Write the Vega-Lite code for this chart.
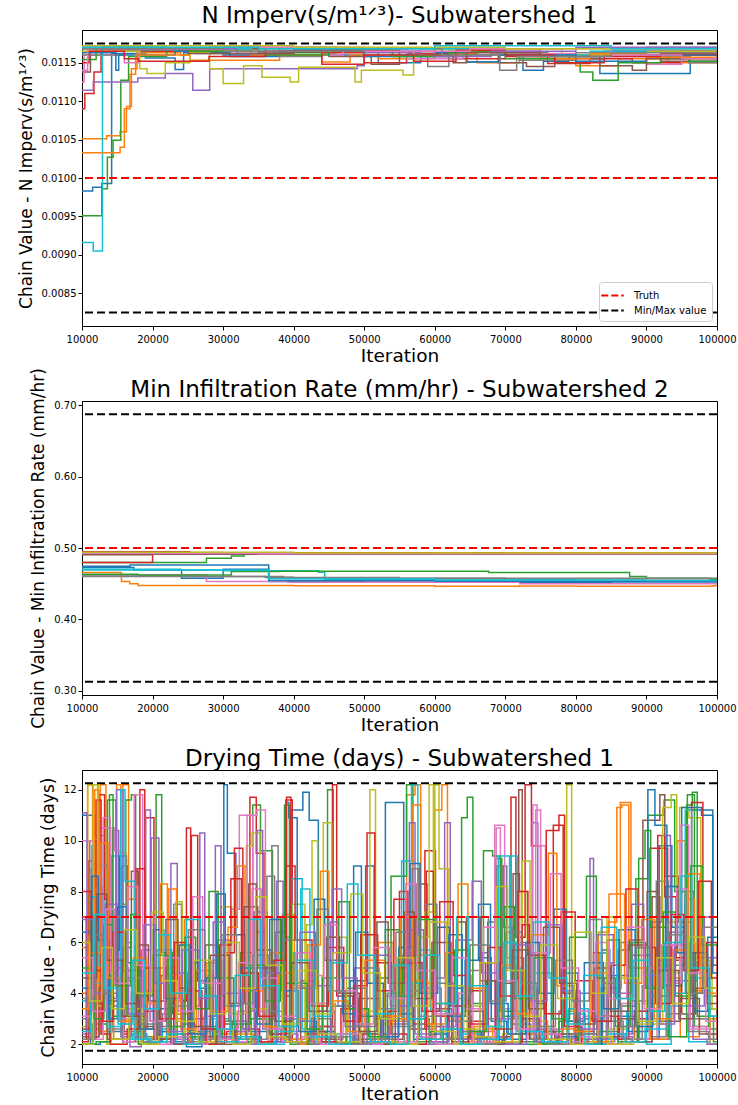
{
  "$schema": "https://vega.github.io/schema/vega-lite/v6.json",
  "background": "white",
  "padding": {"left": 16, "top": 4, "right": 1, "bottom": 0},
  "bounds": "flush",
  "spacing": 75,
  "config": {
    "font": "DejaVu Sans",
    "view": {"stroke": "black", "strokeWidth": 1},
    "axis": {"grid": false, "domainColor": "black", "tickColor": "black", "labelColor": "black", "titleColor": "black", "labelFont": "DejaVu Sans", "titleFont": "DejaVu Sans", "labelFontSize": 10, "titleFontSize": 17, "titleFontWeight": "normal", "tickSize": 4, "labelPadding": 2},
    "axisX": {"titlePadding": 2, "labelPadding": 4, "labelFlush": false, "titleFontSize": 18.5},
    "axisY": {"titlePadding": 6},
    "title": {"font": "DejaVu Sans", "fontSize": 23, "fontWeight": "normal", "color": "black", "offset": 2}
  },
  "resolve": {"scale": {"stroke": "independent", "color": "independent"}, "legend": {"stroke": "independent"}},
  "datasets": {
    "r1": [{"k": "Truth", "v": 0.01}, {"k": "Min/Max value", "v": 0.00825}, {"k": "Min/Max value", "v": 0.01175}],
    "r2": [{"k": "Truth", "v": 0.5}, {"k": "Min/Max value", "v": 0.3125}, {"k": "Min/Max value", "v": 0.6875}],
    "r3": [{"k": "Truth", "v": 7}, {"k": "Min/Max value", "v": 1.75}, {"k": "Min/Max value", "v": 12.25}],
    "p1": [
      {"c":0,"i":10000,"v":0.00983},{"c":0,"i":11500,"v":0.00988},{"c":0,"i":12800,"v":0.00993},{"c":0,"i":14200,"v":0.01162},{"c":0,"i":19000,"v":0.01156},{"c":0,"i":23200,"v":0.01141},{"c":0,"i":24400,"v":0.01163},{"c":0,"i":31000,"v":0.01158},{"c":0,"i":38000,"v":0.01166},{"c":0,"i":45000,"v":0.0116},{"c":0,"i":52000,"v":0.0115},{"c":0,"i":58000,"v":0.01162},{"c":0,"i":64500,"v":0.01151},{"c":0,"i":69200,"v":0.0116},{"c":0,"i":72500,"v":0.0114},{"c":0,"i":75400,"v":0.01152},{"c":0,"i":79000,"v":0.01158},{"c":0,"i":83400,"v":0.01136},{"c":0,"i":96200,"v":0.0116},{"c":0,"i":100000,"v":0.0116},
      {"c":1,"i":10000,"v":0.01051},{"c":1,"i":13500,"v":0.01055},{"c":1,"i":15400,"v":0.0106},{"c":1,"i":16300,"v":0.01093},{"c":1,"i":17000,"v":0.01142},{"c":1,"i":17800,"v":0.01163},{"c":1,"i":24000,"v":0.0116},{"c":1,"i":25300,"v":0.01153},{"c":1,"i":38000,"v":0.0116},{"c":1,"i":44000,"v":0.01151},{"c":1,"i":48000,"v":0.0116},{"c":1,"i":52000,"v":0.01155},{"c":1,"i":60000,"v":0.01162},{"c":1,"i":66000,"v":0.0115},{"c":1,"i":72000,"v":0.01158},{"c":1,"i":80000,"v":0.01146},{"c":1,"i":86000,"v":0.01155},{"c":1,"i":93000,"v":0.0115},{"c":1,"i":100000,"v":0.0115},
      {"c":2,"i":10000,"v":0.00951},{"c":2,"i":12800,"v":0.00986},{"c":2,"i":13600,"v":0.01027},{"c":2,"i":14400,"v":0.01049},{"c":2,"i":15500,"v":0.01127},{"c":2,"i":16600,"v":0.01158},{"c":2,"i":22000,"v":0.01165},{"c":2,"i":30000,"v":0.01168},{"c":2,"i":38000,"v":0.01163},{"c":2,"i":46000,"v":0.01166},{"c":2,"i":54000,"v":0.0116},{"c":2,"i":60000,"v":0.01168},{"c":2,"i":68000,"v":0.01163},{"c":2,"i":76000,"v":0.01158},{"c":2,"i":84000,"v":0.01165},{"c":2,"i":92000,"v":0.0116},{"c":2,"i":100000,"v":0.0116},
      {"c":3,"i":10000,"v":0.0109},{"c":3,"i":10400,"v":0.0111},{"c":3,"i":11700,"v":0.01138},{"c":3,"i":12700,"v":0.01167},{"c":3,"i":20000,"v":0.01165},{"c":3,"i":28000,"v":0.0117},{"c":3,"i":36000,"v":0.0116},{"c":3,"i":44000,"v":0.01163},{"c":3,"i":50000,"v":0.0115},{"c":3,"i":56000,"v":0.01162},{"c":3,"i":62000,"v":0.01155},{"c":3,"i":70000,"v":0.01158},{"c":3,"i":76000,"v":0.01149},{"c":3,"i":82000,"v":0.01155},{"c":3,"i":88000,"v":0.0115},{"c":3,"i":95000,"v":0.0116},{"c":3,"i":100000,"v":0.01162},
      {"c":4,"i":10000,"v":0.01114},{"c":4,"i":11600,"v":0.01125},{"c":4,"i":17900,"v":0.0113},{"c":4,"i":21800,"v":0.01136},{"c":4,"i":25700,"v":0.01114},{"c":4,"i":28100,"v":0.01142},{"c":4,"i":49000,"v":0.01146},{"c":4,"i":50000,"v":0.01163},{"c":4,"i":58000,"v":0.01158},{"c":4,"i":65000,"v":0.01165},{"c":4,"i":75000,"v":0.0116},{"c":4,"i":85000,"v":0.01166},{"c":4,"i":100000,"v":0.01166},
      {"c":5,"i":10000,"v":0.01138},{"c":5,"i":11200,"v":0.01165},{"c":5,"i":20000,"v":0.01168},{"c":5,"i":35000,"v":0.01164},{"c":5,"i":45000,"v":0.01158},{"c":5,"i":51000,"v":0.01148},{"c":5,"i":55000,"v":0.0116},{"c":5,"i":62000,"v":0.01165},{"c":5,"i":69000,"v":0.0115},{"c":5,"i":73000,"v":0.01145},{"c":5,"i":77000,"v":0.01155},{"c":5,"i":84000,"v":0.0116},{"c":5,"i":92000,"v":0.01152},{"c":5,"i":100000,"v":0.01158},
      {"c":6,"i":10000,"v":0.01125},{"c":6,"i":10300,"v":0.0116},{"c":6,"i":16000,"v":0.0115},{"c":6,"i":18000,"v":0.01168},{"c":6,"i":30000,"v":0.01165},{"c":6,"i":40000,"v":0.0116},{"c":6,"i":47000,"v":0.01168},{"c":6,"i":56000,"v":0.01155},{"c":6,"i":64000,"v":0.0116},{"c":6,"i":72000,"v":0.01162},{"c":6,"i":80000,"v":0.01158},{"c":6,"i":90000,"v":0.01148},{"c":6,"i":95000,"v":0.01155},{"c":6,"i":100000,"v":0.0116},
      {"c":7,"i":10000,"v":0.0116},{"c":7,"i":16000,"v":0.01166},{"c":7,"i":26000,"v":0.01162},{"c":7,"i":38000,"v":0.01158},{"c":7,"i":44000,"v":0.01165},{"c":7,"i":52000,"v":0.0116},{"c":7,"i":59000,"v":0.01145},{"c":7,"i":62000,"v":0.0116},{"c":7,"i":72000,"v":0.01153},{"c":7,"i":80000,"v":0.01163},{"c":7,"i":88000,"v":0.01158},{"c":7,"i":96000,"v":0.0115},{"c":7,"i":100000,"v":0.01155},
      {"c":8,"i":10000,"v":0.01165},{"c":8,"i":18200,"v":0.01142},{"c":8,"i":19200,"v":0.01136},{"c":8,"i":21800,"v":0.0115},{"c":8,"i":25300,"v":0.01163},{"c":8,"i":28100,"v":0.01142},{"c":8,"i":30000,"v":0.01123},{"c":8,"i":32900,"v":0.01146},{"c":8,"i":35500,"v":0.01131},{"c":8,"i":39500,"v":0.01125},{"c":8,"i":40700,"v":0.01144},{"c":8,"i":48700,"v":0.01125},{"c":8,"i":49600,"v":0.0114},{"c":8,"i":55500,"v":0.01134},{"c":8,"i":57000,"v":0.01165},{"c":8,"i":66000,"v":0.01168},{"c":8,"i":78000,"v":0.0116},{"c":8,"i":88000,"v":0.01165},{"c":8,"i":100000,"v":0.01162},
      {"c":9,"i":10000,"v":0.00916},{"c":9,"i":11600,"v":0.00905},{"c":9,"i":12900,"v":0.01171},{"c":9,"i":22000,"v":0.01168},{"c":9,"i":34000,"v":0.0117},{"c":9,"i":46000,"v":0.01165},{"c":9,"i":58000,"v":0.01168},{"c":9,"i":70000,"v":0.0116},{"c":9,"i":82000,"v":0.01165},{"c":9,"i":90000,"v":0.0117},{"c":9,"i":100000,"v":0.01168},
      {"c":10,"i":10000,"v":0.01163},{"c":10,"i":14800,"v":0.0114},{"c":10,"i":15200,"v":0.0116},{"c":10,"i":23200,"v":0.01165},{"c":10,"i":30000,"v":0.0116},{"c":10,"i":40000,"v":0.01166},{"c":10,"i":50000,"v":0.01158},{"c":10,"i":60000,"v":0.01163},{"c":10,"i":64500,"v":0.01151},{"c":10,"i":69200,"v":0.0116},{"c":10,"i":80000,"v":0.01152},{"c":10,"i":90000,"v":0.0116},{"c":10,"i":100000,"v":0.01158},
      {"c":11,"i":10000,"v":0.01033},{"c":11,"i":15400,"v":0.0104},{"c":11,"i":16000,"v":0.0109},{"c":11,"i":16800,"v":0.01135},{"c":11,"i":17600,"v":0.0116},{"c":11,"i":25000,"v":0.01165},{"c":11,"i":34000,"v":0.0116},{"c":11,"i":44000,"v":0.01166},{"c":11,"i":55000,"v":0.0116},{"c":11,"i":65000,"v":0.01168},{"c":11,"i":75000,"v":0.01155},{"c":11,"i":82000,"v":0.01162},{"c":11,"i":90000,"v":0.01157},{"c":11,"i":100000,"v":0.01164},
      {"c":12,"i":10000,"v":0.01154},{"c":12,"i":12000,"v":0.01168},{"c":12,"i":25000,"v":0.01165},{"c":12,"i":36000,"v":0.0116},{"c":12,"i":45000,"v":0.01166},{"c":12,"i":54000,"v":0.01158},{"c":12,"i":62000,"v":0.01164},{"c":12,"i":70000,"v":0.01155},{"c":12,"i":77000,"v":0.0115},{"c":12,"i":80600,"v":0.01138},{"c":12,"i":82400,"v":0.01127},{"c":12,"i":86000,"v":0.0115},{"c":12,"i":92000,"v":0.01155},{"c":12,"i":96000,"v":0.01152},{"c":12,"i":100000,"v":0.01152},
      {"c":13,"i":10000,"v":0.0115},{"c":13,"i":11000,"v":0.01165},{"c":13,"i":16000,"v":0.01155},{"c":13,"i":18000,"v":0.01152},{"c":13,"i":28000,"v":0.01158},{"c":13,"i":36000,"v":0.01165},{"c":13,"i":44000,"v":0.01148},{"c":13,"i":50000,"v":0.0116},{"c":13,"i":57000,"v":0.01152},{"c":13,"i":63000,"v":0.01166},{"c":13,"i":70000,"v":0.0116},{"c":13,"i":77000,"v":0.0115},{"c":13,"i":84000,"v":0.01158},{"c":13,"i":92000,"v":0.01162},{"c":13,"i":100000,"v":0.01165},
      {"c":14,"i":10000,"v":0.0117},{"c":14,"i":20000,"v":0.01168},{"c":14,"i":32000,"v":0.01162},{"c":14,"i":40000,"v":0.01168},{"c":14,"i":50000,"v":0.01165},{"c":14,"i":60000,"v":0.01158},{"c":14,"i":68000,"v":0.01165},{"c":14,"i":80000,"v":0.0117},{"c":14,"i":100000,"v":0.01168},
      {"c":15,"i":10000,"v":0.01168},{"c":15,"i":25000,"v":0.01162},{"c":15,"i":40000,"v":0.01166},{"c":15,"i":55000,"v":0.0116},{"c":15,"i":62600,"v":0.0115},{"c":15,"i":64500,"v":0.01163},{"c":15,"i":75000,"v":0.01158},{"c":15,"i":83400,"v":0.01146},{"c":15,"i":88000,"v":0.0114},{"c":15,"i":90000,"v":0.01155},{"c":15,"i":100000,"v":0.0116},
      {"c":16,"i":10000,"v":0.0114},{"c":16,"i":10800,"v":0.01168},{"c":16,"i":30000,"v":0.0117},{"c":16,"i":50000,"v":0.01165},{"c":16,"i":65000,"v":0.01168},{"c":16,"i":85000,"v":0.0116},{"c":16,"i":95000,"v":0.01155},{"c":16,"i":100000,"v":0.01158},
      {"c":17,"i":10000,"v":0.01168},{"c":17,"i":30000,"v":0.01165},{"c":17,"i":50000,"v":0.01168},{"c":17,"i":61000,"v":0.0116},{"c":17,"i":69200,"v":0.0114},{"c":17,"i":71600,"v":0.01158},{"c":17,"i":85000,"v":0.01163},{"c":17,"i":100000,"v":0.01165},
      {"c":18,"i":10000,"v":0.01172},{"c":18,"i":40000,"v":0.0117},{"c":18,"i":70000,"v":0.01168},{"c":18,"i":100000,"v":0.0117},
      {"c":19,"i":10000,"v":0.0117},{"c":19,"i":35000,"v":0.01168},{"c":19,"i":60000,"v":0.01172},{"c":19,"i":85000,"v":0.01168},{"c":19,"i":100000,"v":0.0117}
    ],
    "p2": [
      {"c":0,"i":10000,"v":0.4725},{"c":0,"i":17350,"v":0.4692},{"c":0,"i":24110,"v":0.4576},{"c":0,"i":30000,"v":0.4702},{"c":0,"i":36460,"v":0.4529},{"c":0,"i":50000,"v":0.4522},{"c":0,"i":70000,"v":0.4518},{"c":0,"i":85000,"v":0.4525},{"c":0,"i":100000,"v":0.452},
      {"c":1,"i":10000,"v":0.4655},{"c":1,"i":15590,"v":0.4529},{"c":1,"i":16760,"v":0.4497},{"c":1,"i":17940,"v":0.4473},{"c":1,"i":40000,"v":0.447},{"c":1,"i":60000,"v":0.4465},{"c":1,"i":72000,"v":0.4468},{"c":1,"i":80000,"v":0.4465},{"c":1,"i":99500,"v":0.447},{"c":1,"i":100000,"v":0.449},
      {"c":2,"i":10000,"v":0.4795},{"c":2,"i":27640,"v":0.4856},{"c":2,"i":31170,"v":0.4888},{"c":2,"i":33000,"v":0.4912},{"c":2,"i":60000,"v":0.4914},{"c":2,"i":100000,"v":0.4912},
      {"c":3,"i":10000,"v":0.4795},{"c":3,"i":20000,"v":0.4926},{"c":3,"i":45000,"v":0.493},{"c":3,"i":70000,"v":0.4925},{"c":3,"i":100000,"v":0.4928},
      {"c":4,"i":10000,"v":0.4915},{"c":4,"i":30000,"v":0.4918},{"c":4,"i":60000,"v":0.492},{"c":4,"i":100000,"v":0.4922},
      {"c":5,"i":10000,"v":0.492},{"c":5,"i":40000,"v":0.4922},{"c":5,"i":100000,"v":0.492},
      {"c":6,"i":10000,"v":0.4625},{"c":6,"i":27640,"v":0.4529},{"c":6,"i":39110,"v":0.452},{"c":6,"i":72040,"v":0.45},{"c":6,"i":100000,"v":0.4495},
      {"c":7,"i":10000,"v":0.4608},{"c":7,"i":25000,"v":0.46},{"c":7,"i":38520,"v":0.459},{"c":7,"i":40000,"v":0.4576},{"c":7,"i":70000,"v":0.457},{"c":7,"i":100000,"v":0.456},
      {"c":8,"i":10000,"v":0.493},{"c":8,"i":25000,"v":0.4925},{"c":8,"i":55000,"v":0.492},{"c":8,"i":100000,"v":0.4918},
      {"c":9,"i":10000,"v":0.4702},{"c":9,"i":24000,"v":0.469},{"c":9,"i":30000,"v":0.468},{"c":9,"i":43520,"v":0.466},{"c":9,"i":44400,"v":0.456},{"c":9,"i":60000,"v":0.4552},{"c":9,"i":80000,"v":0.454},{"c":9,"i":100000,"v":0.453},
      {"c":10,"i":10000,"v":0.4745},{"c":10,"i":16800,"v":0.476},{"c":10,"i":36460,"v":0.4545},{"c":10,"i":60000,"v":0.4535},{"c":10,"i":80000,"v":0.4528},{"c":10,"i":100000,"v":0.4515},
      {"c":11,"i":10000,"v":0.4938},{"c":11,"i":30000,"v":0.4932},{"c":11,"i":65000,"v":0.4925},{"c":11,"i":100000,"v":0.4922},
      {"c":12,"i":10000,"v":0.463},{"c":12,"i":17940,"v":0.462},{"c":12,"i":31170,"v":0.4669},{"c":12,"i":38000,"v":0.4675},{"c":12,"i":67630,"v":0.4655},{"c":12,"i":87620,"v":0.46},{"c":12,"i":90000,"v":0.4576},{"c":12,"i":99000,"v":0.456},{"c":12,"i":100000,"v":0.4555},
      {"c":13,"i":10000,"v":0.4949},{"c":13,"i":25290,"v":0.4926},{"c":13,"i":60000,"v":0.4922},{"c":13,"i":100000,"v":0.4925},
      {"c":14,"i":10000,"v":0.4912},{"c":14,"i":50000,"v":0.4915},{"c":14,"i":100000,"v":0.4918},
      {"c":15,"i":10000,"v":0.4905},{"c":15,"i":20000,"v":0.4915},{"c":15,"i":100000,"v":0.4915},
      {"c":16,"i":10000,"v":0.4925},{"c":16,"i":35000,"v":0.492},{"c":16,"i":100000,"v":0.4918},
      {"c":17,"i":10000,"v":0.46},{"c":17,"i":36000,"v":0.4585},{"c":17,"i":55000,"v":0.4575},{"c":17,"i":100000,"v":0.4565},
      {"c":18,"i":10000,"v":0.4942},{"c":18,"i":40000,"v":0.493},{"c":18,"i":100000,"v":0.4925},
      {"c":19,"i":10000,"v":0.469},{"c":19,"i":36460,"v":0.457},{"c":19,"i":60000,"v":0.4552},{"c":19,"i":90000,"v":0.4545},{"c":19,"i":100000,"v":0.454}
    ],
    "p3": [
      {"c":0,"i":10000,"v":11.0},{"c":0,"i":11800,"v":10.2},{"c":0,"i":13100,"v":3.3},{"c":0,"i":14200,"v":2.5},{"c":0,"i":15600,"v":9.0},{"c":0,"i":16500,"v":5.2},{"c":0,"i":17800,"v":2.2},{"c":0,"i":19500,"v":2.0},{"c":0,"i":21000,"v":3.4},{"c":0,"i":22600,"v":2.1},{"c":0,"i":24800,"v":1.9},{"c":0,"i":27000,"v":2.6},{"c":0,"i":30100,"v":12.2},{"c":0,"i":30600,"v":9.5},{"c":0,"i":31800,"v":6.3},{"c":0,"i":33200,"v":2.3},{"c":0,"i":35400,"v":2.0},{"c":0,"i":37500,"v":3.9},{"c":0,"i":39600,"v":11.2},{"c":0,"i":41300,"v":11.9},{"c":0,"i":42200,"v":10.8},{"c":0,"i":43500,"v":2.7},{"c":0,"i":45800,"v":2.1},{"c":0,"i":48000,"v":4.5},{"c":0,"i":50200,"v":9.0},{"c":0,"i":51400,"v":3.0},{"c":0,"i":53000,"v":11.5},{"c":0,"i":55600,"v":5.1},{"c":0,"i":57800,"v":2.3},{"c":0,"i":59500,"v":2.1},{"c":0,"i":61800,"v":4.2},{"c":0,"i":64000,"v":2.0},{"c":0,"i":66400,"v":5.4},{"c":0,"i":68000,"v":2.9},{"c":0,"i":70200,"v":2.2},{"c":0,"i":73000,"v":3.6},{"c":0,"i":75500,"v":2.0},{"c":0,"i":78000,"v":4.8},{"c":0,"i":80300,"v":2.4},{"c":0,"i":83000,"v":2.0},{"c":0,"i":86000,"v":3.1},{"c":0,"i":89000,"v":2.2},{"c":0,"i":91800,"v":9.8},{"c":0,"i":93600,"v":6.6},{"c":0,"i":95700,"v":11.2},{"c":0,"i":99400,"v":5.1},{"c":0,"i":100000,"v":5.1},
      {"c":1,"i":10000,"v":5.8},{"c":1,"i":10800,"v":12.2},{"c":1,"i":11500,"v":4.0},{"c":1,"i":12600,"v":12.2},{"c":1,"i":13400,"v":3.9},{"c":1,"i":14500,"v":2.2},{"c":1,"i":15800,"v":12.2},{"c":1,"i":16600,"v":7.7},{"c":1,"i":17500,"v":2.6},{"c":1,"i":19200,"v":4.1},{"c":1,"i":20800,"v":2.2},{"c":1,"i":22500,"v":3.0},{"c":1,"i":24500,"v":6.9},{"c":1,"i":25800,"v":2.4},{"c":1,"i":27800,"v":2.0},{"c":1,"i":29800,"v":2.4},{"c":1,"i":32000,"v":3.3},{"c":1,"i":34500,"v":2.0},{"c":1,"i":36800,"v":2.2},{"c":1,"i":38400,"v":7.1},{"c":1,"i":40100,"v":4.3},{"c":1,"i":42600,"v":2.1},{"c":1,"i":45200,"v":2.0},{"c":1,"i":47400,"v":3.5},{"c":1,"i":49500,"v":2.1},{"c":1,"i":52000,"v":6.0},{"c":1,"i":54100,"v":2.9},{"c":1,"i":56000,"v":11.8},{"c":1,"i":57200,"v":12.2},{"c":1,"i":58000,"v":4.4},{"c":1,"i":60000,"v":11.2},{"c":1,"i":61000,"v":12.2},{"c":1,"i":61800,"v":3.2},{"c":1,"i":63600,"v":2.1},{"c":1,"i":66000,"v":2.5},{"c":1,"i":68500,"v":2.0},{"c":1,"i":71000,"v":3.0},{"c":1,"i":74000,"v":2.1},{"c":1,"i":77000,"v":2.4},{"c":1,"i":80000,"v":2.0},{"c":1,"i":83200,"v":6.4},{"c":1,"i":84600,"v":6.8},{"c":1,"i":85800,"v":11.3},{"c":1,"i":86500,"v":11.4},{"c":1,"i":87500,"v":5.0},{"c":1,"i":89600,"v":3.6},{"c":1,"i":92000,"v":4.6},{"c":1,"i":94800,"v":2.3},{"c":1,"i":97500,"v":3.0},{"c":1,"i":100000,"v":3.2},
      {"c":2,"i":10000,"v":2.0},{"c":2,"i":11500,"v":2.8},{"c":2,"i":13600,"v":11.6},{"c":2,"i":14800,"v":7.5},{"c":2,"i":16200,"v":11.6},{"c":2,"i":17000,"v":11.8},{"c":2,"i":17600,"v":4.9},{"c":2,"i":18800,"v":2.3},{"c":2,"i":20500,"v":11.8},{"c":2,"i":21300,"v":5.6},{"c":2,"i":22800,"v":3.2},{"c":2,"i":25000,"v":2.0},{"c":2,"i":27600,"v":2.7},{"c":2,"i":29900,"v":2.2},{"c":2,"i":32500,"v":5.6},{"c":2,"i":34200,"v":11.4},{"c":2,"i":35300,"v":9.6},{"c":2,"i":37000,"v":2.3},{"c":2,"i":39500,"v":2.0},{"c":2,"i":42000,"v":2.2},{"c":2,"i":44800,"v":12.0},{"c":2,"i":45600,"v":3.5},{"c":2,"i":48500,"v":2.0},{"c":2,"i":51500,"v":4.6},{"c":2,"i":53800,"v":8.6},{"c":2,"i":56000,"v":12.2},{"c":2,"i":56900,"v":3.0},{"c":2,"i":59200,"v":2.0},{"c":2,"i":61800,"v":2.6},{"c":2,"i":63800,"v":10.9},{"c":2,"i":64600,"v":11.7},{"c":2,"i":65400,"v":3.6},{"c":2,"i":67500,"v":6.8},{"c":2,"i":68600,"v":9.3},{"c":2,"i":69500,"v":3.1},{"c":2,"i":72000,"v":2.0},{"c":2,"i":75000,"v":2.5},{"c":2,"i":78200,"v":3.8},{"c":2,"i":80600,"v":2.2},{"c":2,"i":84400,"v":6.1},{"c":2,"i":86200,"v":3.5},{"c":2,"i":88500,"v":8.5},{"c":2,"i":90200,"v":11.0},{"c":2,"i":92500,"v":11.6},{"c":2,"i":94000,"v":8.0},{"c":2,"i":95800,"v":11.8},{"c":2,"i":96800,"v":2.7},{"c":2,"i":98800,"v":3.4},{"c":2,"i":100000,"v":3.0},
      {"c":3,"i":10000,"v":2.1},{"c":3,"i":10900,"v":9.2},{"c":3,"i":11700,"v":2.3},{"c":3,"i":12400,"v":11.8},{"c":3,"i":13200,"v":7.7},{"c":3,"i":14100,"v":5.8},{"c":3,"i":15700,"v":2.4},{"c":3,"i":17600,"v":3.1},{"c":3,"i":19000,"v":10.9},{"c":3,"i":20200,"v":2.9},{"c":3,"i":21900,"v":5.0},{"c":3,"i":23500,"v":2.4},{"c":3,"i":25500,"v":10.2},{"c":3,"i":26400,"v":4.5},{"c":3,"i":28200,"v":2.1},{"c":3,"i":30500,"v":2.5},{"c":3,"i":33800,"v":11.7},{"c":3,"i":34700,"v":9.5},{"c":3,"i":35800,"v":3.0},{"c":3,"i":37500,"v":6.4},{"c":3,"i":38900,"v":11.6},{"c":3,"i":39800,"v":2.1},{"c":3,"i":42300,"v":2.7},{"c":3,"i":45500,"v":12.2},{"c":3,"i":46100,"v":3.9},{"c":3,"i":48400,"v":2.2},{"c":3,"i":51000,"v":2.0},{"c":3,"i":53500,"v":3.3},{"c":3,"i":55000,"v":8.0},{"c":3,"i":56200,"v":2.6},{"c":3,"i":58600,"v":9.6},{"c":3,"i":60100,"v":3.1},{"c":3,"i":62400,"v":2.0},{"c":3,"i":64800,"v":4.1},{"c":3,"i":67000,"v":2.3},{"c":3,"i":70800,"v":11.7},{"c":3,"i":71500,"v":6.2},{"c":3,"i":72800,"v":12.2},{"c":3,"i":73700,"v":9.8},{"c":3,"i":75000,"v":2.4},{"c":3,"i":76800,"v":10.6},{"c":3,"i":78200,"v":4.0},{"c":3,"i":80000,"v":2.5},{"c":3,"i":82500,"v":5.6},{"c":3,"i":84600,"v":2.2},{"c":3,"i":87500,"v":3.0},{"c":3,"i":90500,"v":9.7},{"c":3,"i":93000,"v":5.3},{"c":3,"i":95000,"v":3.2},{"c":3,"i":97000,"v":4.2},{"c":3,"i":98500,"v":6.0},{"c":3,"i":100000,"v":2.2},
      {"c":4,"i":10000,"v":2.4},{"c":4,"i":11100,"v":10.0},{"c":4,"i":12000,"v":8.2},{"c":4,"i":12900,"v":2.5},{"c":4,"i":14300,"v":10.4},{"c":4,"i":15200,"v":2.9},{"c":4,"i":16800,"v":1.9},{"c":4,"i":18400,"v":5.7},{"c":4,"i":19800,"v":10.1},{"c":4,"i":20900,"v":2.7},{"c":4,"i":22600,"v":9.1},{"c":4,"i":23500,"v":2.2},{"c":4,"i":25400,"v":3.5},{"c":4,"i":26700,"v":10.3},{"c":4,"i":27400,"v":2.0},{"c":4,"i":29200,"v":6.1},{"c":4,"i":31000,"v":2.5},{"c":4,"i":33600,"v":4.8},{"c":4,"i":35200,"v":2.1},{"c":4,"i":37600,"v":8.4},{"c":4,"i":38500,"v":2.4},{"c":4,"i":40600,"v":2.0},{"c":4,"i":43000,"v":3.3},{"c":4,"i":45800,"v":2.1},{"c":4,"i":48600,"v":5.0},{"c":4,"i":50400,"v":2.2},{"c":4,"i":53500,"v":2.8},{"c":4,"i":56100,"v":6.1},{"c":4,"i":57600,"v":2.0},{"c":4,"i":60200,"v":4.6},{"c":4,"i":61400,"v":10.7},{"c":4,"i":62200,"v":3.5},{"c":4,"i":65000,"v":2.2},{"c":4,"i":67800,"v":2.0},{"c":4,"i":71000,"v":6.0},{"c":4,"i":73800,"v":10.7},{"c":4,"i":74600,"v":2.6},{"c":4,"i":77200,"v":2.0},{"c":4,"i":79800,"v":4.0},{"c":4,"i":82000,"v":9.3},{"c":4,"i":82500,"v":2.1},{"c":4,"i":85500,"v":2.4},{"c":4,"i":88000,"v":5.5},{"c":4,"i":90500,"v":2.2},{"c":4,"i":93300,"v":6.4},{"c":4,"i":95500,"v":4.5},{"c":4,"i":97200,"v":5.4},{"c":4,"i":100000,"v":5.5},
      {"c":5,"i":10000,"v":2.6},{"c":5,"i":12500,"v":6.3},{"c":5,"i":13800,"v":3.7},{"c":5,"i":16000,"v":2.5},{"c":5,"i":18500,"v":2.1},{"c":5,"i":21200,"v":4.7},{"c":5,"i":22600,"v":2.3},{"c":5,"i":25000,"v":3.0},{"c":5,"i":27500,"v":5.9},{"c":5,"i":29300,"v":2.8},{"c":5,"i":31600,"v":2.2},{"c":5,"i":34600,"v":6.4},{"c":5,"i":36000,"v":2.6},{"c":5,"i":38200,"v":2.1},{"c":5,"i":41000,"v":4.5},{"c":5,"i":43500,"v":2.3},{"c":5,"i":46000,"v":2.0},{"c":5,"i":49200,"v":3.8},{"c":5,"i":52300,"v":2.2},{"c":5,"i":55500,"v":5.5},{"c":5,"i":57400,"v":8.3},{"c":5,"i":58900,"v":2.7},{"c":5,"i":61200,"v":2.2},{"c":5,"i":63200,"v":6.8},{"c":5,"i":64400,"v":3.3},{"c":5,"i":67000,"v":2.1},{"c":5,"i":69800,"v":5.0},{"c":5,"i":71900,"v":12.0},{"c":5,"i":72400,"v":4.1},{"c":5,"i":74600,"v":2.5},{"c":5,"i":77000,"v":2.2},{"c":5,"i":80000,"v":3.0},{"c":5,"i":83000,"v":2.3},{"c":5,"i":86000,"v":5.7},{"c":5,"i":87600,"v":6.1},{"c":5,"i":89500,"v":10.8},{"c":5,"i":91900,"v":11.8},{"c":5,"i":92600,"v":8.6},{"c":5,"i":94500,"v":6.8},{"c":5,"i":96300,"v":4.0},{"c":5,"i":98400,"v":3.9},{"c":5,"i":100000,"v":3.9},
      {"c":6,"i":10000,"v":10.0},{"c":6,"i":11600,"v":4.4},{"c":6,"i":12500,"v":10.5},{"c":6,"i":14600,"v":9.6},{"c":6,"i":15400,"v":3.0},{"c":6,"i":16800,"v":2.2},{"c":6,"i":19000,"v":7.0},{"c":6,"i":20400,"v":2.5},{"c":6,"i":22000,"v":2.0},{"c":6,"i":24200,"v":4.1},{"c":6,"i":26500,"v":2.2},{"c":6,"i":29000,"v":2.6},{"c":6,"i":31200,"v":7.3},{"c":6,"i":32300,"v":11.0},{"c":6,"i":34200,"v":3.3},{"c":6,"i":36400,"v":2.1},{"c":6,"i":39000,"v":2.5},{"c":6,"i":41800,"v":4.7},{"c":6,"i":44000,"v":2.2},{"c":6,"i":47000,"v":3.2},{"c":6,"i":50000,"v":2.1},{"c":6,"i":53000,"v":3.9},{"c":6,"i":56400,"v":5.6},{"c":6,"i":57800,"v":4.1},{"c":6,"i":60100,"v":2.5},{"c":6,"i":62600,"v":3.1},{"c":6,"i":65200,"v":2.1},{"c":6,"i":68700,"v":10.5},{"c":6,"i":69300,"v":3.4},{"c":6,"i":71500,"v":2.4},{"c":6,"i":73900,"v":11.4},{"c":6,"i":74500,"v":9.8},{"c":6,"i":75700,"v":2.6},{"c":6,"i":78200,"v":2.2},{"c":6,"i":81000,"v":3.1},{"c":6,"i":83800,"v":2.0},{"c":6,"i":86500,"v":3.6},{"c":6,"i":89000,"v":2.2},{"c":6,"i":91500,"v":5.3},{"c":6,"i":93700,"v":5.9},{"c":6,"i":96200,"v":2.7},{"c":6,"i":98500,"v":2.4},{"c":6,"i":100000,"v":2.4},
      {"c":7,"i":10000,"v":3.0},{"c":7,"i":11300,"v":8.9},{"c":7,"i":12200,"v":9.0},{"c":7,"i":13700,"v":3.5},{"c":7,"i":15500,"v":2.3},{"c":7,"i":17000,"v":4.0},{"c":7,"i":19300,"v":2.6},{"c":7,"i":21400,"v":3.2},{"c":7,"i":23000,"v":7.5},{"c":7,"i":24100,"v":2.8},{"c":7,"i":26000,"v":2.2},{"c":7,"i":28600,"v":5.3},{"c":7,"i":29800,"v":2.6},{"c":7,"i":32000,"v":2.0},{"c":7,"i":34500,"v":3.0},{"c":7,"i":36900,"v":9.8},{"c":7,"i":37800,"v":4.4},{"c":7,"i":39600,"v":2.2},{"c":7,"i":42000,"v":2.5},{"c":7,"i":44600,"v":2.1},{"c":7,"i":47500,"v":4.2},{"c":7,"i":50300,"v":2.4},{"c":7,"i":53000,"v":2.0},{"c":7,"i":55700,"v":4.4},{"c":7,"i":57600,"v":2.6},{"c":7,"i":60000,"v":2.2},{"c":7,"i":62600,"v":3.8},{"c":7,"i":64800,"v":4.9},{"c":7,"i":66500,"v":7.0},{"c":7,"i":67600,"v":3.0},{"c":7,"i":69600,"v":9.0},{"c":7,"i":70200,"v":5.4},{"c":7,"i":72600,"v":2.6},{"c":7,"i":75000,"v":2.1},{"c":7,"i":77600,"v":3.3},{"c":7,"i":80300,"v":2.0},{"c":7,"i":83600,"v":4.2},{"c":7,"i":86400,"v":6.0},{"c":7,"i":88000,"v":3.7},{"c":7,"i":90500,"v":2.3},{"c":7,"i":92800,"v":5.1},{"c":7,"i":95400,"v":8.0},{"c":7,"i":96700,"v":3.0},{"c":7,"i":99000,"v":2.6},{"c":7,"i":100000,"v":2.6},
      {"c":8,"i":10000,"v":2.7},{"c":8,"i":10800,"v":12.2},{"c":8,"i":12300,"v":2.4},{"c":8,"i":13500,"v":2.0},{"c":8,"i":15800,"v":4.6},{"c":8,"i":17600,"v":2.1},{"c":8,"i":20000,"v":2.2},{"c":8,"i":22400,"v":3.9},{"c":8,"i":24600,"v":2.0},{"c":8,"i":27200,"v":2.4},{"c":8,"i":29700,"v":7.4},{"c":8,"i":31200,"v":3.2},{"c":8,"i":33300,"v":9.8},{"c":8,"i":34100,"v":10.3},{"c":8,"i":35200,"v":4.2},{"c":8,"i":37300,"v":2.4},{"c":8,"i":39800,"v":7.5},{"c":8,"i":41600,"v":2.2},{"c":8,"i":44200,"v":10.7},{"c":8,"i":45400,"v":6.2},{"c":8,"i":47500,"v":2.1},{"c":8,"i":50800,"v":12.0},{"c":8,"i":51600,"v":2.8},{"c":8,"i":54000,"v":2.1},{"c":8,"i":56500,"v":4.1},{"c":8,"i":58600,"v":7.2},{"c":8,"i":59800,"v":12.2},{"c":8,"i":60600,"v":8.9},{"c":8,"i":62000,"v":2.3},{"c":8,"i":64600,"v":3.5},{"c":8,"i":66900,"v":2.0},{"c":8,"i":69600,"v":2.4},{"c":8,"i":72400,"v":9.2},{"c":8,"i":73500,"v":2.9},{"c":8,"i":76000,"v":2.1},{"c":8,"i":78700,"v":12.2},{"c":8,"i":79400,"v":3.3},{"c":8,"i":81800,"v":2.0},{"c":8,"i":84600,"v":2.6},{"c":8,"i":87200,"v":2.1},{"c":8,"i":90000,"v":5.0},{"c":8,"i":92000,"v":4.8},{"c":8,"i":94700,"v":11.3},{"c":8,"i":96000,"v":10.9},{"c":8,"i":97700,"v":5.1},{"c":8,"i":99300,"v":3.4},{"c":8,"i":100000,"v":3.4},
      {"c":9,"i":10000,"v":3.7},{"c":9,"i":11400,"v":9.8},{"c":9,"i":12800,"v":5.1},{"c":9,"i":14200,"v":9.4},{"c":9,"i":15700,"v":2.2},{"c":9,"i":17200,"v":2.4},{"c":9,"i":19200,"v":2.1},{"c":9,"i":21400,"v":2.6},{"c":9,"i":23300,"v":2.0},{"c":9,"i":25800,"v":2.3},{"c":9,"i":28100,"v":3.0},{"c":9,"i":31000,"v":2.2},{"c":9,"i":33500,"v":2.1},{"c":9,"i":36400,"v":2.0},{"c":9,"i":38700,"v":6.2},{"c":9,"i":39700,"v":8.5},{"c":9,"i":41200,"v":2.6},{"c":9,"i":43300,"v":2.1},{"c":9,"i":46000,"v":2.4},{"c":9,"i":49000,"v":2.0},{"c":9,"i":52500,"v":3.0},{"c":9,"i":55300,"v":9.2},{"c":9,"i":56700,"v":12.2},{"c":9,"i":57600,"v":5.7},{"c":9,"i":59400,"v":3.3},{"c":9,"i":61600,"v":2.2},{"c":9,"i":64000,"v":2.4},{"c":9,"i":66300,"v":2.0},{"c":9,"i":69600,"v":2.2},{"c":9,"i":70800,"v":9.4},{"c":9,"i":71700,"v":2.5},{"c":9,"i":74200,"v":4.8},{"c":9,"i":76500,"v":2.1},{"c":9,"i":79000,"v":3.4},{"c":9,"i":81800,"v":2.0},{"c":9,"i":84200,"v":2.2},{"c":9,"i":87200,"v":3.3},{"c":9,"i":90000,"v":2.0},{"c":9,"i":93500,"v":3.5},{"c":9,"i":96000,"v":2.1},{"c":9,"i":99000,"v":2.0},{"c":9,"i":100000,"v":2.0},
      {"c":10,"i":10000,"v":6.4},{"c":10,"i":11200,"v":2.0},{"c":10,"i":12600,"v":2.1},{"c":10,"i":14100,"v":5.7},{"c":10,"i":15300,"v":9.4},{"c":10,"i":16300,"v":3.2},{"c":10,"i":18400,"v":2.2},{"c":10,"i":20700,"v":2.5},{"c":10,"i":23000,"v":2.0},{"c":10,"i":25600,"v":5.2},{"c":10,"i":26600,"v":4.2},{"c":10,"i":28500,"v":2.3},{"c":10,"i":31500,"v":2.1},{"c":10,"i":34000,"v":2.5},{"c":10,"i":36700,"v":2.1},{"c":10,"i":38900,"v":11.5},{"c":10,"i":39300,"v":10.9},{"c":10,"i":40500,"v":2.9},{"c":10,"i":43200,"v":2.5},{"c":10,"i":45800,"v":2.0},{"c":10,"i":48500,"v":9.0},{"c":10,"i":49600,"v":3.1},{"c":10,"i":52400,"v":2.1},{"c":10,"i":54800,"v":3.2},{"c":10,"i":57000,"v":2.2},{"c":10,"i":59700,"v":2.4},{"c":10,"i":62000,"v":6.3},{"c":10,"i":63900,"v":2.5},{"c":10,"i":66600,"v":2.2},{"c":10,"i":69500,"v":2.0},{"c":10,"i":72200,"v":4.2},{"c":10,"i":74400,"v":2.1},{"c":10,"i":77400,"v":2.3},{"c":10,"i":80200,"v":2.0},{"c":10,"i":83700,"v":5.7},{"c":10,"i":84800,"v":4.7},{"c":10,"i":87400,"v":2.5},{"c":10,"i":90200,"v":12.0},{"c":10,"i":91200,"v":10.6},{"c":10,"i":92900,"v":4.3},{"c":10,"i":95000,"v":11.3},{"c":10,"i":97800,"v":11.0},{"c":10,"i":99400,"v":4.8},{"c":10,"i":100000,"v":4.8},
      {"c":11,"i":10000,"v":4.0},{"c":11,"i":11000,"v":6.2},{"c":11,"i":11800,"v":12.0},{"c":11,"i":12400,"v":2.5},{"c":11,"i":13500,"v":5.4},{"c":11,"i":14900,"v":12.2},{"c":11,"i":15500,"v":9.5},{"c":11,"i":16200,"v":2.8},{"c":11,"i":18000,"v":2.0},{"c":11,"i":19900,"v":2.3},{"c":11,"i":22300,"v":8.1},{"c":11,"i":23400,"v":3.2},{"c":11,"i":25400,"v":2.0},{"c":11,"i":27700,"v":5.2},{"c":11,"i":29500,"v":2.1},{"c":11,"i":31800,"v":2.4},{"c":11,"i":34300,"v":2.1},{"c":11,"i":36800,"v":5.6},{"c":11,"i":38400,"v":2.2},{"c":11,"i":41000,"v":2.0},{"c":11,"i":43600,"v":3.6},{"c":11,"i":45900,"v":2.0},{"c":11,"i":48400,"v":2.4},{"c":11,"i":51200,"v":2.1},{"c":11,"i":54000,"v":3.0},{"c":11,"i":56800,"v":11.4},{"c":11,"i":58000,"v":5.5},{"c":11,"i":59600,"v":2.2},{"c":11,"i":62500,"v":2.0},{"c":11,"i":65600,"v":2.7},{"c":11,"i":68200,"v":2.1},{"c":11,"i":71000,"v":2.4},{"c":11,"i":74600,"v":2.0},{"c":11,"i":78000,"v":2.6},{"c":11,"i":81000,"v":2.1},{"c":11,"i":84300,"v":5.2},{"c":11,"i":85500,"v":7.0},{"c":11,"i":86300,"v":11.5},{"c":11,"i":87800,"v":2.7},{"c":11,"i":90600,"v":2.2},{"c":11,"i":93000,"v":6.8},{"c":11,"i":94400,"v":10.0},{"c":11,"i":95500,"v":7.7},{"c":11,"i":96800,"v":4.1},{"c":11,"i":99000,"v":2.0},{"c":11,"i":100000,"v":2.0},
      {"c":12,"i":10000,"v":2.0},{"c":12,"i":12000,"v":2.1},{"c":12,"i":13900,"v":11.8},{"c":12,"i":14400,"v":3.1},{"c":12,"i":16400,"v":4.5},{"c":12,"i":18000,"v":2.0},{"c":12,"i":20400,"v":2.2},{"c":12,"i":22600,"v":3.8},{"c":12,"i":24300,"v":2.3},{"c":12,"i":26700,"v":2.0},{"c":12,"i":29000,"v":2.9},{"c":12,"i":31300,"v":2.1},{"c":12,"i":34000,"v":3.0},{"c":12,"i":36600,"v":2.4},{"c":12,"i":38700,"v":11.4},{"c":12,"i":39400,"v":2.1},{"c":12,"i":42000,"v":2.0},{"c":12,"i":44600,"v":2.3},{"c":12,"i":47500,"v":2.0},{"c":12,"i":50400,"v":2.2},{"c":12,"i":53300,"v":4.0},{"c":12,"i":55400,"v":5.2},{"c":12,"i":57000,"v":2.1},{"c":12,"i":59400,"v":2.5},{"c":12,"i":61200,"v":2.0},{"c":12,"i":64000,"v":2.2},{"c":12,"i":66900,"v":9.6},{"c":12,"i":68200,"v":9.4},{"c":12,"i":69300,"v":3.3},{"c":12,"i":72000,"v":2.1},{"c":12,"i":75300,"v":2.0},{"c":12,"i":77600,"v":2.9},{"c":12,"i":80400,"v":2.0},{"c":12,"i":83300,"v":2.5},{"c":12,"i":86000,"v":2.1},{"c":12,"i":88900,"v":9.3},{"c":12,"i":89800,"v":10.4},{"c":12,"i":90600,"v":6.6},{"c":12,"i":93100,"v":2.3},{"c":12,"i":95700,"v":11.4},{"c":12,"i":96500,"v":11.9},{"c":12,"i":97200,"v":3.1},{"c":12,"i":99500,"v":2.1},{"c":12,"i":100000,"v":2.1},
      {"c":13,"i":10000,"v":7.0},{"c":13,"i":10600,"v":2.2},{"c":13,"i":12000,"v":11.6},{"c":13,"i":12700,"v":2.4},{"c":13,"i":14000,"v":2.0},{"c":13,"i":16400,"v":2.6},{"c":13,"i":18200,"v":12.0},{"c":13,"i":18900,"v":3.3},{"c":13,"i":20700,"v":2.2},{"c":13,"i":23000,"v":3.7},{"c":13,"i":24800,"v":10.5},{"c":13,"i":25400,"v":2.5},{"c":13,"i":27600,"v":2.0},{"c":13,"i":30200,"v":5.6},{"c":13,"i":31600,"v":9.7},{"c":13,"i":32800,"v":2.6},{"c":13,"i":35100,"v":2.1},{"c":13,"i":37000,"v":2.4},{"c":13,"i":39000,"v":11.7},{"c":13,"i":39600,"v":4.2},{"c":13,"i":41800,"v":2.4},{"c":13,"i":44000,"v":2.1},{"c":13,"i":46700,"v":3.4},{"c":13,"i":48500,"v":4.3},{"c":13,"i":50400,"v":10.3},{"c":13,"i":51500,"v":5.2},{"c":13,"i":53800,"v":2.4},{"c":13,"i":56100,"v":2.0},{"c":13,"i":58800,"v":8.8},{"c":13,"i":59800,"v":3.1},{"c":13,"i":62000,"v":2.2},{"c":13,"i":65000,"v":2.9},{"c":13,"i":67200,"v":5.2},{"c":13,"i":69100,"v":2.1},{"c":13,"i":72400,"v":6.7},{"c":13,"i":73400,"v":2.2},{"c":13,"i":75800,"v":10.4},{"c":13,"i":77600,"v":11.0},{"c":13,"i":78400,"v":2.7},{"c":13,"i":80800,"v":2.0},{"c":13,"i":83600,"v":3.1},{"c":13,"i":86000,"v":2.2},{"c":13,"i":88300,"v":3.3},{"c":13,"i":91600,"v":10.2},{"c":13,"i":92600,"v":7.8},{"c":13,"i":94200,"v":5.4},{"c":13,"i":96400,"v":11.5},{"c":13,"i":98000,"v":4.2},{"c":13,"i":100000,"v":4.2},
      {"c":14,"i":10000,"v":11.1},{"c":14,"i":10700,"v":2.5},{"c":14,"i":11900,"v":6.0},{"c":14,"i":13200,"v":3.8},{"c":14,"i":14900,"v":12.0},{"c":14,"i":15800,"v":2.1},{"c":14,"i":17600,"v":2.3},{"c":14,"i":19000,"v":11.2},{"c":14,"i":19700,"v":2.9},{"c":14,"i":21200,"v":2.1},{"c":14,"i":23200,"v":4.8},{"c":14,"i":25000,"v":2.0},{"c":14,"i":27300,"v":3.1},{"c":14,"i":28900,"v":9.8},{"c":14,"i":29700,"v":2.3},{"c":14,"i":32200,"v":2.0},{"c":14,"i":34800,"v":10.4},{"c":14,"i":35600,"v":2.6},{"c":14,"i":37800,"v":2.1},{"c":14,"i":40400,"v":2.9},{"c":14,"i":42800,"v":2.0},{"c":14,"i":45200,"v":6.8},{"c":14,"i":46300,"v":3.5},{"c":14,"i":48800,"v":2.1},{"c":14,"i":51500,"v":2.4},{"c":14,"i":54400,"v":2.0},{"c":14,"i":56400,"v":10.7},{"c":14,"i":57200,"v":2.4},{"c":14,"i":59500,"v":2.1},{"c":14,"i":62000,"v":2.9},{"c":14,"i":63800,"v":2.2},{"c":14,"i":66800,"v":5.6},{"c":14,"i":67600,"v":2.3},{"c":14,"i":70000,"v":2.0},{"c":14,"i":73000,"v":5.6},{"c":14,"i":74200,"v":2.1},{"c":14,"i":76600,"v":2.4},{"c":14,"i":79000,"v":2.0},{"c":14,"i":81600,"v":2.2},{"c":14,"i":84400,"v":5.2},{"c":14,"i":85400,"v":2.3},{"c":14,"i":88000,"v":2.1},{"c":14,"i":90800,"v":6.8},{"c":14,"i":92200,"v":10.2},{"c":14,"i":93400,"v":4.5},{"c":14,"i":96600,"v":2.2},{"c":14,"i":98600,"v":2.0},{"c":14,"i":100000,"v":2.0},
      {"c":15,"i":10000,"v":2.3},{"c":15,"i":12400,"v":4.2},{"c":15,"i":13600,"v":2.2},{"c":15,"i":15900,"v":5.8},{"c":15,"i":17000,"v":8.8},{"c":15,"i":18000,"v":2.7},{"c":15,"i":20200,"v":2.2},{"c":15,"i":22600,"v":2.0},{"c":15,"i":25000,"v":4.5},{"c":15,"i":26800,"v":2.3},{"c":15,"i":29000,"v":2.0},{"c":15,"i":31800,"v":2.9},{"c":15,"i":33600,"v":8.3},{"c":15,"i":34700,"v":5.7},{"c":15,"i":36900,"v":2.3},{"c":15,"i":39400,"v":2.1},{"c":15,"i":42200,"v":2.5},{"c":15,"i":44500,"v":2.2},{"c":15,"i":46800,"v":2.0},{"c":15,"i":49800,"v":2.4},{"c":15,"i":52000,"v":2.0},{"c":15,"i":54400,"v":5.0},{"c":15,"i":55800,"v":5.8},{"c":15,"i":57000,"v":2.8},{"c":15,"i":59800,"v":3.4},{"c":15,"i":62400,"v":2.1},{"c":15,"i":64700,"v":2.3},{"c":15,"i":67400,"v":2.0},{"c":15,"i":69800,"v":4.4},{"c":15,"i":71100,"v":8.7},{"c":15,"i":72000,"v":3.0},{"c":15,"i":74800,"v":2.2},{"c":15,"i":77500,"v":2.4},{"c":15,"i":80000,"v":2.0},{"c":15,"i":83500,"v":2.3},{"c":15,"i":86200,"v":3.0},{"c":15,"i":88700,"v":2.1},{"c":15,"i":90800,"v":7.8},{"c":15,"i":91900,"v":2.9},{"c":15,"i":94800,"v":3.8},{"c":15,"i":97500,"v":2.4},{"c":15,"i":100000,"v":2.4},
      {"c":16,"i":10000,"v":3.1},{"c":16,"i":11300,"v":2.2},{"c":16,"i":13000,"v":10.9},{"c":16,"i":14000,"v":4.8},{"c":16,"i":15900,"v":2.1},{"c":16,"i":17400,"v":11.8},{"c":16,"i":18600,"v":3.4},{"c":16,"i":20400,"v":2.0},{"c":16,"i":22800,"v":2.3},{"c":16,"i":25200,"v":2.0},{"c":16,"i":27800,"v":4.7},{"c":16,"i":29400,"v":2.2},{"c":16,"i":31600,"v":2.1},{"c":16,"i":33400,"v":11.0},{"c":16,"i":34800,"v":11.2},{"c":16,"i":36000,"v":2.6},{"c":16,"i":38500,"v":2.1},{"c":16,"i":41200,"v":2.3},{"c":16,"i":43800,"v":2.0},{"c":16,"i":46600,"v":2.4},{"c":16,"i":49500,"v":2.0},{"c":16,"i":52600,"v":3.0},{"c":16,"i":54800,"v":2.1},{"c":16,"i":57400,"v":2.3},{"c":16,"i":60200,"v":2.0},{"c":16,"i":63400,"v":4.0},{"c":16,"i":65400,"v":2.1},{"c":16,"i":68500,"v":10.6},{"c":16,"i":69900,"v":5.0},{"c":16,"i":71400,"v":2.6},{"c":16,"i":74300,"v":11.2},{"c":16,"i":75000,"v":2.4},{"c":16,"i":77800,"v":2.1},{"c":16,"i":80600,"v":2.3},{"c":16,"i":83100,"v":3.1},{"c":16,"i":85000,"v":2.0},{"c":16,"i":87800,"v":2.2},{"c":16,"i":90400,"v":5.0},{"c":16,"i":92800,"v":4.4},{"c":16,"i":94900,"v":10.6},{"c":16,"i":96000,"v":2.6},{"c":16,"i":99000,"v":2.2},{"c":16,"i":100000,"v":2.2},
      {"c":17,"i":10000,"v":2.2},{"c":17,"i":11800,"v":4.4},{"c":17,"i":13500,"v":2.6},{"c":17,"i":15600,"v":6.0},{"c":17,"i":17000,"v":3.0},{"c":17,"i":18700,"v":2.1},{"c":17,"i":20800,"v":5.0},{"c":17,"i":22000,"v":2.4},{"c":17,"i":24600,"v":2.1},{"c":17,"i":27000,"v":2.5},{"c":17,"i":29700,"v":6.0},{"c":17,"i":30800,"v":2.9},{"c":17,"i":33300,"v":2.2},{"c":17,"i":36200,"v":8.6},{"c":17,"i":37300,"v":2.7},{"c":17,"i":39400,"v":2.1},{"c":17,"i":42500,"v":3.0},{"c":17,"i":45400,"v":2.3},{"c":17,"i":48300,"v":2.0},{"c":17,"i":51000,"v":2.2},{"c":17,"i":54000,"v":2.7},{"c":17,"i":56800,"v":8.9},{"c":17,"i":57700,"v":3.1},{"c":17,"i":60800,"v":2.2},{"c":17,"i":63500,"v":2.5},{"c":17,"i":66100,"v":2.0},{"c":17,"i":68800,"v":9.0},{"c":17,"i":69700,"v":6.6},{"c":17,"i":71000,"v":2.8},{"c":17,"i":73600,"v":2.2},{"c":17,"i":76300,"v":2.0},{"c":17,"i":79400,"v":2.4},{"c":17,"i":82600,"v":4.6},{"c":17,"i":84000,"v":2.9},{"c":17,"i":86700,"v":2.2},{"c":17,"i":89400,"v":4.3},{"c":17,"i":91400,"v":8.4},{"c":17,"i":93100,"v":3.2},{"c":17,"i":95900,"v":2.5},{"c":17,"i":98800,"v":2.2},{"c":17,"i":100000,"v":2.2},
      {"c":18,"i":10000,"v":2.0},{"c":18,"i":11600,"v":12.2},{"c":18,"i":12200,"v":3.5},{"c":18,"i":14200,"v":2.2},{"c":18,"i":16600,"v":3.4},{"c":18,"i":18500,"v":2.0},{"c":18,"i":20900,"v":2.3},{"c":18,"i":23300,"v":7.6},{"c":18,"i":24200,"v":2.5},{"c":18,"i":26400,"v":2.1},{"c":18,"i":28800,"v":2.6},{"c":18,"i":31400,"v":2.0},{"c":18,"i":33900,"v":3.4},{"c":18,"i":36300,"v":2.3},{"c":18,"i":38900,"v":2.1},{"c":18,"i":41800,"v":6.7},{"c":18,"i":42600,"v":10.0},{"c":18,"i":43400,"v":2.4},{"c":18,"i":46200,"v":2.1},{"c":18,"i":49400,"v":3.3},{"c":18,"i":52000,"v":2.1},{"c":18,"i":54600,"v":2.0},{"c":18,"i":57600,"v":6.2},{"c":18,"i":59200,"v":12.2},{"c":18,"i":60000,"v":2.5},{"c":18,"i":62900,"v":2.0},{"c":18,"i":65500,"v":2.3},{"c":18,"i":68300,"v":2.1},{"c":18,"i":72000,"v":8.0},{"c":18,"i":73100,"v":2.7},{"c":18,"i":76000,"v":2.2},{"c":18,"i":79200,"v":2.0},{"c":18,"i":82400,"v":2.3},{"c":18,"i":85200,"v":2.0},{"c":18,"i":88200,"v":2.8},{"c":18,"i":92300,"v":11.3},{"c":18,"i":93500,"v":11.8},{"c":18,"i":94300,"v":6.0},{"c":18,"i":97000,"v":5.3},{"c":18,"i":99000,"v":2.9},{"c":18,"i":100000,"v":2.9},
      {"c":19,"i":10000,"v":2.5},{"c":19,"i":11200,"v":7.8},{"c":19,"i":12400,"v":5.1},{"c":19,"i":13600,"v":2.7},{"c":19,"i":15500,"v":12.0},{"c":19,"i":16100,"v":8.4},{"c":19,"i":17500,"v":2.2},{"c":19,"i":19700,"v":2.1},{"c":19,"i":22000,"v":2.4},{"c":19,"i":24400,"v":2.0},{"c":19,"i":26900,"v":2.6},{"c":19,"i":29500,"v":2.1},{"c":19,"i":32100,"v":2.3},{"c":19,"i":35000,"v":2.0},{"c":19,"i":37400,"v":2.5},{"c":19,"i":40000,"v":5.6},{"c":19,"i":41000,"v":8.1},{"c":19,"i":42300,"v":2.3},{"c":19,"i":45000,"v":2.0},{"c":19,"i":48000,"v":2.5},{"c":19,"i":50900,"v":2.1},{"c":19,"i":53700,"v":2.0},{"c":19,"i":56200,"v":4.4},{"c":19,"i":58100,"v":2.2},{"c":19,"i":61000,"v":2.6},{"c":19,"i":63600,"v":2.0},{"c":19,"i":66600,"v":2.2},{"c":19,"i":69000,"v":9.4},{"c":19,"i":70600,"v":5.0},{"c":19,"i":72200,"v":2.5},{"c":19,"i":75300,"v":2.1},{"c":19,"i":78800,"v":3.2},{"c":19,"i":81300,"v":2.0},{"c":19,"i":83400,"v":5.6},{"c":19,"i":84500,"v":2.4},{"c":19,"i":87000,"v":2.1},{"c":19,"i":89800,"v":2.6},{"c":19,"i":93000,"v":4.0},{"c":19,"i":95500,"v":11.2},{"c":19,"i":96400,"v":4.6},{"c":19,"i":99000,"v":3.1},{"c":19,"i":100000,"v":3.1},
      {"c":20,"i":10000,"v":4.2},{"c":20,"i":11400,"v":8.6},{"c":20,"i":12300,"v":6.1},{"c":20,"i":13800,"v":3.0},{"c":20,"i":15000,"v":7.4},{"c":20,"i":16400,"v":4.9},{"c":20,"i":18200,"v":2.6},{"c":20,"i":20100,"v":6.5},{"c":20,"i":21600,"v":3.8},{"c":20,"i":23800,"v":5.9},{"c":20,"i":25300,"v":2.4},{"c":20,"i":27600,"v":4.6},{"c":20,"i":29100,"v":7.9},{"c":20,"i":30300,"v":3.5},{"c":20,"i":32400,"v":5.0},{"c":20,"i":34800,"v":2.8},{"c":20,"i":36600,"v":6.9},{"c":20,"i":38300,"v":4.1},{"c":20,"i":40700,"v":2.5},{"c":20,"i":42900,"v":7.7},{"c":20,"i":44400,"v":5.3},{"c":20,"i":46900,"v":3.2},{"c":20,"i":48800,"v":6.4},{"c":20,"i":50500,"v":4.4},{"c":20,"i":52700,"v":2.3},{"c":20,"i":54900,"v":5.8},{"c":20,"i":56500,"v":9.1},{"c":20,"i":57900,"v":4.0},{"c":20,"i":60400,"v":6.6},{"c":20,"i":62100,"v":3.1},{"c":20,"i":64300,"v":5.3},{"c":20,"i":66200,"v":7.5},{"c":20,"i":67900,"v":3.6},{"c":20,"i":70400,"v":2.4},{"c":20,"i":72900,"v":6.0},{"c":20,"i":74800,"v":4.0},{"c":20,"i":76900,"v":7.3},{"c":20,"i":78600,"v":2.9},{"c":20,"i":81200,"v":5.2},{"c":20,"i":83900,"v":3.4},{"c":20,"i":86100,"v":6.5},{"c":20,"i":88400,"v":2.7},{"c":20,"i":90900,"v":4.9},{"c":20,"i":92700,"v":8.2},{"c":20,"i":94400,"v":5.6},{"c":20,"i":96900,"v":3.3},{"c":20,"i":98700,"v":6.2},{"c":20,"i":100000,"v":6.2},
      {"c":21,"i":10000,"v":3.4},{"c":21,"i":11000,"v":5.6},{"c":21,"i":12700,"v":9.9},{"c":21,"i":13700,"v":4.6},{"c":21,"i":15300,"v":2.9},{"c":21,"i":17300,"v":5.4},{"c":21,"i":19100,"v":3.6},{"c":21,"i":21100,"v":8.3},{"c":21,"i":22100,"v":4.7},{"c":21,"i":24000,"v":2.6},{"c":21,"i":26200,"v":4.9},{"c":21,"i":28400,"v":3.3},{"c":21,"i":30700,"v":6.6},{"c":21,"i":32000,"v":9.0},{"c":21,"i":33100,"v":4.1},{"c":21,"i":35700,"v":2.7},{"c":21,"i":37900,"v":4.8},{"c":21,"i":39900,"v":3.0},{"c":21,"i":42000,"v":5.9},{"c":21,"i":43800,"v":8.8},{"c":21,"i":45000,"v":3.7},{"c":21,"i":47700,"v":2.5},{"c":21,"i":50100,"v":5.3},{"c":21,"i":52900,"v":3.1},{"c":21,"i":55100,"v":7.0},{"c":21,"i":56900,"v":4.5},{"c":21,"i":59000,"v":2.8},{"c":21,"i":61500,"v":5.6},{"c":21,"i":63300,"v":8.3},{"c":21,"i":64700,"v":4.2},{"c":21,"i":67100,"v":2.6},{"c":21,"i":69400,"v":5.1},{"c":21,"i":71600,"v":3.2},{"c":21,"i":73700,"v":6.3},{"c":21,"i":76100,"v":9.5},{"c":21,"i":77300,"v":4.3},{"c":21,"i":79700,"v":2.5},{"c":21,"i":82000,"v":4.8},{"c":21,"i":84700,"v":7.9},{"c":21,"i":86900,"v":4.4},{"c":21,"i":89300,"v":6.9},{"c":21,"i":91100,"v":3.0},{"c":21,"i":93800,"v":5.7},{"c":21,"i":95900,"v":8.7},{"c":21,"i":97600,"v":4.0},{"c":21,"i":100000,"v":4.0},
      {"c":22,"i":10000,"v":5.0},{"c":22,"i":11700,"v":3.0},{"c":22,"i":13100,"v":6.7},{"c":22,"i":14700,"v":4.3},{"c":22,"i":16900,"v":7.1},{"c":22,"i":18100,"v":3.9},{"c":22,"i":20000,"v":5.5},{"c":22,"i":22200,"v":2.7},{"c":22,"i":24600,"v":6.2},{"c":22,"i":26100,"v":3.4},{"c":22,"i":28000,"v":8.0},{"c":22,"i":29300,"v":4.6},{"c":22,"i":31500,"v":2.8},{"c":22,"i":33900,"v":5.1},{"c":22,"i":36000,"v":3.7},{"c":22,"i":38100,"v":7.0},{"c":22,"i":39500,"v":4.4},{"c":22,"i":41900,"v":2.6},{"c":22,"i":44100,"v":4.6},{"c":22,"i":46400,"v":7.6},{"c":22,"i":47900,"v":3.4},{"c":22,"i":50600,"v":2.3},{"c":22,"i":53000,"v":6.5},{"c":22,"i":55000,"v":3.9},{"c":22,"i":57300,"v":6.9},{"c":22,"i":59900,"v":3.6},{"c":22,"i":62800,"v":5.7},{"c":22,"i":64900,"v":2.5},{"c":22,"i":67300,"v":4.5},{"c":22,"i":69900,"v":7.4},{"c":22,"i":71300,"v":3.8},{"c":22,"i":74100,"v":5.4},{"c":22,"i":76600,"v":3.0},{"c":22,"i":79100,"v":6.2},{"c":22,"i":81500,"v":8.6},{"c":22,"i":82900,"v":4.6},{"c":22,"i":85600,"v":2.7},{"c":22,"i":87700,"v":6.0},{"c":22,"i":89900,"v":4.2},{"c":22,"i":92400,"v":7.2},{"c":22,"i":94100,"v":3.9},{"c":22,"i":96300,"v":9.0},{"c":22,"i":97900,"v":5.9},{"c":22,"i":100000,"v":5.9},
      {"c":23,"i":10000,"v":8.0},{"c":23,"i":11300,"v":4.9},{"c":23,"i":12900,"v":2.9},{"c":23,"i":14400,"v":6.4},{"c":23,"i":16100,"v":3.6},{"c":23,"i":17800,"v":8.9},{"c":23,"i":18900,"v":5.0},{"c":23,"i":21000,"v":3.0},{"c":23,"i":23100,"v":6.0},{"c":23,"i":24700,"v":4.1},{"c":23,"i":27000,"v":2.6},{"c":23,"i":29500,"v":5.9},{"c":23,"i":31100,"v":8.5},{"c":23,"i":32600,"v":4.8},{"c":23,"i":35000,"v":3.1},{"c":23,"i":37200,"v":5.3},{"c":23,"i":38900,"v":9.0},{"c":23,"i":40200,"v":6.1},{"c":23,"i":42600,"v":3.5},{"c":23,"i":44900,"v":5.8},{"c":23,"i":47100,"v":2.9},{"c":23,"i":49500,"v":6.3},{"c":23,"i":51900,"v":4.1},{"c":23,"i":54200,"v":7.7},{"c":23,"i":55900,"v":5.2},{"c":23,"i":58200,"v":3.3},{"c":23,"i":60700,"v":7.6},{"c":23,"i":62600,"v":4.7},{"c":23,"i":65100,"v":2.8},{"c":23,"i":67500,"v":5.8},{"c":23,"i":69300,"v":3.9},{"c":23,"i":71800,"v":8.0},{"c":23,"i":73200,"v":5.5},{"c":23,"i":75600,"v":3.2},{"c":23,"i":77900,"v":7.2},{"c":23,"i":79900,"v":4.5},{"c":23,"i":82300,"v":2.9},{"c":23,"i":85000,"v":5.1},{"c":23,"i":87100,"v":8.1},{"c":23,"i":88800,"v":5.8},{"c":23,"i":91300,"v":3.6},{"c":23,"i":93500,"v":7.1},{"c":23,"i":95300,"v":4.9},{"c":23,"i":97400,"v":8.4},{"c":23,"i":99200,"v":4.6},{"c":23,"i":100000,"v":4.6},
      {"c":24,"i":10000,"v":6.9},{"c":24,"i":11900,"v":4.0},{"c":24,"i":13300,"v":7.5},{"c":24,"i":14800,"v":5.0},{"c":24,"i":16600,"v":3.2},{"c":24,"i":18800,"v":6.7},{"c":24,"i":20300,"v":4.4},{"c":24,"i":22400,"v":2.5},{"c":24,"i":24200,"v":5.7},{"c":24,"i":26600,"v":3.8},{"c":24,"i":28600,"v":6.8},{"c":24,"i":30100,"v":4.0},{"c":24,"i":32700,"v":2.6},{"c":24,"i":34400,"v":7.2},{"c":24,"i":36200,"v":4.8},{"c":24,"i":38800,"v":3.0},{"c":24,"i":40900,"v":6.4},{"c":24,"i":43100,"v":4.3},{"c":24,"i":45500,"v":8.1},{"c":24,"i":46800,"v":4.6},{"c":24,"i":49000,"v":2.7},{"c":24,"i":51600,"v":5.5},{"c":24,"i":53700,"v":3.5},{"c":24,"i":56600,"v":6.5},{"c":24,"i":58400,"v":4.2},{"c":24,"i":60900,"v":2.7},{"c":24,"i":63000,"v":6.1},{"c":24,"i":65300,"v":8.4},{"c":24,"i":66600,"v":4.8},{"c":24,"i":68900,"v":3.0},{"c":24,"i":71200,"v":5.9},{"c":24,"i":73500,"v":3.7},{"c":24,"i":75900,"v":6.7},{"c":24,"i":78100,"v":4.1},{"c":24,"i":80600,"v":2.6},{"c":24,"i":83000,"v":6.3},{"c":24,"i":85300,"v":4.0},{"c":24,"i":87900,"v":7.5},{"c":24,"i":89600,"v":4.7},{"c":24,"i":91900,"v":2.8},{"c":24,"i":94000,"v":6.0},{"c":24,"i":96100,"v":3.5},{"c":24,"i":98200,"v":7.0},{"c":24,"i":100000,"v":7.0},
      {"c":25,"i":10000,"v":4.6},{"c":25,"i":12100,"v":7.9},{"c":25,"i":13500,"v":5.3},{"c":25,"i":15700,"v":3.1},{"c":25,"i":17700,"v":5.9},{"c":25,"i":19400,"v":3.7},{"c":25,"i":21900,"v":6.9},{"c":25,"i":23600,"v":4.2},{"c":25,"i":25900,"v":2.7},{"c":25,"i":28200,"v":5.5},{"c":25,"i":30900,"v":3.6},{"c":25,"i":33000,"v":7.4},{"c":25,"i":34900,"v":5.0},{"c":25,"i":37400,"v":2.9},{"c":25,"i":39700,"v":5.2},{"c":25,"i":42200,"v":3.3},{"c":25,"i":44700,"v":6.2},{"c":25,"i":46500,"v":4.0},{"c":25,"i":49300,"v":2.5},{"c":25,"i":51800,"v":6.8},{"c":25,"i":53400,"v":4.4},{"c":25,"i":55700,"v":7.2},{"c":25,"i":57100,"v":3.8},{"c":25,"i":59600,"v":6.0},{"c":25,"i":62300,"v":3.5},{"c":25,"i":64500,"v":7.0},{"c":25,"i":66400,"v":4.5},{"c":25,"i":68600,"v":2.6},{"c":25,"i":71000,"v":5.7},{"c":25,"i":73300,"v":3.4},{"c":25,"i":75400,"v":6.6},{"c":25,"i":77700,"v":4.4},{"c":25,"i":80100,"v":2.8},{"c":25,"i":82700,"v":5.0},{"c":25,"i":84900,"v":3.3},{"c":25,"i":87400,"v":5.9},{"c":25,"i":90100,"v":8.0},{"c":25,"i":91600,"v":4.9},{"c":25,"i":94600,"v":3.0},{"c":25,"i":96600,"v":5.6},{"c":25,"i":98600,"v":3.6},{"c":25,"i":100000,"v":3.6},
      {"c":26,"i":10000,"v":5.4},{"c":26,"i":11500,"v":3.3},{"c":26,"i":13400,"v":7.3},{"c":26,"i":14600,"v":4.4},{"c":26,"i":16500,"v":8.2},{"c":26,"i":17900,"v":5.1},{"c":26,"i":19600,"v":2.9},{"c":26,"i":21700,"v":5.4},{"c":26,"i":23700,"v":3.3},{"c":26,"i":25700,"v":7.8},{"c":26,"i":27100,"v":4.4},{"c":26,"i":29900,"v":2.6},{"c":26,"i":32200,"v":5.2},{"c":26,"i":34100,"v":8.1},{"c":26,"i":35400,"v":4.6},{"c":26,"i":37700,"v":3.1},{"c":26,"i":40300,"v":5.6},{"c":26,"i":42400,"v":3.6},{"c":26,"i":44300,"v":6.7},{"c":26,"i":46200,"v":4.1},{"c":26,"i":48900,"v":2.8},{"c":26,"i":51300,"v":5.8},{"c":26,"i":53600,"v":3.8},{"c":26,"i":55900,"v":8.3},{"c":26,"i":57500,"v":4.9},{"c":26,"i":60000,"v":3.2},{"c":26,"i":62500,"v":5.4},{"c":26,"i":64600,"v":3.4},{"c":26,"i":66900,"v":6.6},{"c":26,"i":68900,"v":4.5},{"c":26,"i":71700,"v":2.6},{"c":26,"i":74000,"v":5.6},{"c":26,"i":76400,"v":8.7},{"c":26,"i":77900,"v":5.0},{"c":26,"i":80400,"v":3.3},{"c":26,"i":82800,"v":6.0},{"c":26,"i":84700,"v":3.8},{"c":26,"i":87200,"v":6.6},{"c":26,"i":89700,"v":3.4},{"c":26,"i":92100,"v":5.9},{"c":26,"i":94300,"v":8.1},{"c":26,"i":95800,"v":4.8},{"c":26,"i":98400,"v":2.9},{"c":26,"i":100000,"v":2.9},
      {"c":27,"i":10000,"v":3.8},{"c":27,"i":11800,"v":6.3},{"c":27,"i":13000,"v":4.0},{"c":27,"i":14900,"v":7.0},{"c":27,"i":16300,"v":4.6},{"c":27,"i":18300,"v":2.8},{"c":27,"i":20600,"v":5.7},{"c":27,"i":22700,"v":3.5},{"c":27,"i":25100,"v":6.5},{"c":27,"i":27400,"v":3.9},{"c":27,"i":29800,"v":6.3},{"c":27,"i":31900,"v":3.6},{"c":27,"i":34200,"v":5.5},{"c":27,"i":36500,"v":3.3},{"c":27,"i":38600,"v":6.1},{"c":27,"i":41200,"v":4.2},{"c":27,"i":43300,"v":7.3},{"c":27,"i":44900,"v":4.1},{"c":27,"i":47300,"v":2.7},{"c":27,"i":49700,"v":5.0},{"c":27,"i":52100,"v":3.4},{"c":27,"i":54500,"v":6.4},{"c":27,"i":56200,"v":4.1},{"c":27,"i":58700,"v":7.5},{"c":27,"i":60300,"v":4.4},{"c":27,"i":62700,"v":2.9},{"c":27,"i":65000,"v":5.9},{"c":27,"i":67700,"v":3.7},{"c":27,"i":70100,"v":6.4},{"c":27,"i":72300,"v":4.4},{"c":27,"i":74500,"v":2.7},{"c":27,"i":77100,"v":5.3},{"c":27,"i":79500,"v":3.7},{"c":27,"i":81900,"v":6.9},{"c":27,"i":83700,"v":4.4},{"c":27,"i":86300,"v":2.7},{"c":27,"i":88600,"v":5.8},{"c":27,"i":90700,"v":3.9},{"c":27,"i":93200,"v":6.3},{"c":27,"i":95600,"v":4.0},{"c":27,"i":97900,"v":6.6},{"c":27,"i":100000,"v":6.6},
      {"c":28,"i":10000,"v":6.0},{"c":28,"i":11100,"v":3.7},{"c":28,"i":12800,"v":5.8},{"c":28,"i":14300,"v":3.4},{"c":28,"i":16000,"v":6.5},{"c":28,"i":17700,"v":4.0},{"c":28,"i":19900,"v":7.2},{"c":28,"i":21500,"v":4.5},{"c":28,"i":23500,"v":2.9},{"c":28,"i":25900,"v":5.3},{"c":28,"i":28300,"v":3.2},{"c":28,"i":30400,"v":6.0},{"c":28,"i":32300,"v":4.2},{"c":28,"i":34600,"v":7.8},{"c":28,"i":36100,"v":5.1},{"c":28,"i":38400,"v":2.8},{"c":28,"i":40800,"v":4.9},{"c":28,"i":43200,"v":3.2},{"c":28,"i":45600,"v":5.6},{"c":28,"i":48100,"v":7.9},{"c":28,"i":49800,"v":4.8},{"c":28,"i":52300,"v":3.0},{"c":28,"i":54700,"v":5.4},{"c":28,"i":57000,"v":3.5},{"c":28,"i":59300,"v":6.8},{"c":28,"i":61700,"v":4.3},{"c":28,"i":64100,"v":2.6},{"c":28,"i":66400,"v":5.2},{"c":28,"i":68700,"v":8.2},{"c":28,"i":70300,"v":4.9},{"c":28,"i":72700,"v":3.1},{"c":28,"i":75000,"v":5.9},{"c":28,"i":77400,"v":3.8},{"c":28,"i":79800,"v":6.4},{"c":28,"i":82200,"v":4.0},{"c":28,"i":84400,"v":7.0},{"c":28,"i":86400,"v":4.6},{"c":28,"i":88800,"v":2.9},{"c":28,"i":91500,"v":5.4},{"c":28,"i":93700,"v":3.6},{"c":28,"i":96000,"v":6.2},{"c":28,"i":98300,"v":4.2},{"c":28,"i":100000,"v":4.2},
      {"c":29,"i":10000,"v":4.8},{"c":29,"i":11700,"v":7.1},{"c":29,"i":13200,"v":4.2},{"c":29,"i":15100,"v":2.8},{"c":29,"i":17100,"v":5.3},{"c":29,"i":18900,"v":3.4},{"c":29,"i":20900,"v":6.3},{"c":29,"i":22500,"v":4.0},{"c":29,"i":24800,"v":6.9},{"c":29,"i":26800,"v":3.9},{"c":29,"i":29100,"v":2.6},{"c":29,"i":31700,"v":4.7},{"c":29,"i":33700,"v":6.9},{"c":29,"i":35300,"v":4.3},{"c":29,"i":37900,"v":2.7},{"c":29,"i":40500,"v":5.3},{"c":29,"i":42800,"v":3.1},{"c":29,"i":45300,"v":5.2},{"c":29,"i":47600,"v":8.3},{"c":29,"i":49100,"v":5.5},{"c":29,"i":51400,"v":3.2},{"c":29,"i":54100,"v":5.1},{"c":29,"i":56300,"v":3.0},{"c":29,"i":58500,"v":5.5},{"c":29,"i":60700,"v":3.6},{"c":29,"i":63100,"v":7.0},{"c":29,"i":64800,"v":4.3},{"c":29,"i":67400,"v":2.7},{"c":29,"i":69800,"v":6.0},{"c":29,"i":71500,"v":3.9},{"c":29,"i":74000,"v":6.8},{"c":29,"i":76200,"v":4.6},{"c":29,"i":78700,"v":2.8},{"c":29,"i":81100,"v":4.7},{"c":29,"i":83600,"v":6.6},{"c":29,"i":85800,"v":3.8},{"c":29,"i":88100,"v":5.3},{"c":29,"i":90400,"v":3.3},{"c":29,"i":92600,"v":6.0},{"c":29,"i":94900,"v":8.6},{"c":29,"i":96400,"v":5.0},{"c":29,"i":98900,"v":3.1},{"c":29,"i":100000,"v":3.1}
    ]
  },
  "vconcat": [
    {
      "title": {"text": "N Imperv(s/m¹ᐟ³)- Subwatershed 1"},
      "width": 635,
      "height": 296,
      "layer": [
        {
          "data": {"name": "p1"},
          "mark": {"type": "line", "interpolate": "step-after", "strokeWidth": 1.5, "clip": true},
          "encoding": {
            "x": {"field": "i", "type": "quantitative", "scale": {"domain": [10000, 100000], "nice": false}, "axis": {"title": "Iteration", "values": [10000, 20000, 30000, 40000, 50000, 60000, 70000, 80000, 90000, 100000], "format": "d"}},
            "y": {"field": "v", "type": "quantitative", "scale": {"domain": [0.008075, 0.011925], "nice": false, "zero": false}, "axis": {"title": "Chain Value - N Imperv(s/m¹ᐟ³)", "values": [0.0085, 0.009, 0.0095, 0.01, 0.0105, 0.011, 0.0115], "format": ".4f"}},
            "color": {"field": "c", "type": "nominal", "scale": {"domain": [0,1,2,3,4,5,6,7,8,9,10,11,12,13,14,15,16,17,18,19], "range": ["#1f77b4","#ff7f0e","#2ca02c","#d62728","#9467bd","#8c564b","#e377c2","#7f7f7f","#bcbd22","#17becf"]}, "legend": null}
          }
        },
        {
          "data": {"name": "r1"},
          "mark": {"type": "rule", "strokeDash": [8, 4], "strokeWidth": 2},
          "encoding": {
            "y": {"field": "v", "type": "quantitative"},
            "stroke": {"field": "k", "type": "nominal", "scale": {"domain": ["Truth", "Min/Max value"], "range": ["#ff0000", "#000000"]},
              "legend": {"title": null, "orient": "bottom-right", "offset": 5, "fillColor": "white", "strokeColor": "#cccccc", "cornerRadius": 3, "padding": 5, "symbolType": "M-1.5,0H1.5", "symbolSize": 225, "symbolStrokeWidth": 2, "symbolDash": [7, 3], "labelFontSize": 10, "labelFont": "DejaVu Sans", "labelColor": "black", "labelOffset": 13, "rowPadding": 1}}
          }
        }
      ]
    },
    {
      "title": {"text": "Min Infiltration Rate (mm/hr) - Subwatershed 2", "dy": 36},
      "width": 635,
      "height": 294,
      "layer": [
        {
          "data": {"name": "p2"},
          "mark": {"type": "line", "interpolate": "step-after", "strokeWidth": 1.5, "clip": true},
          "encoding": {
            "x": {"field": "i", "type": "quantitative", "scale": {"domain": [10000, 100000], "nice": false}, "axis": {"title": "Iteration", "values": [10000, 20000, 30000, 40000, 50000, 60000, 70000, 80000, 90000, 100000], "format": "d"}},
            "y": {"field": "v", "type": "quantitative", "scale": {"domain": [0.29375, 0.70625], "nice": false, "zero": false}, "axis": {"title": "Chain Value - Min Infiltration Rate (mm/hr)", "values": [0.3, 0.35, 0.4, 0.45, 0.5, 0.55, 0.6, 0.65, 0.7], "format": ".2f"}},
            "color": {"field": "c", "type": "nominal", "scale": {"domain": [0,1,2,3,4,5,6,7,8,9,10,11,12,13,14,15,16,17,18,19], "range": ["#1f77b4","#ff7f0e","#2ca02c","#d62728","#9467bd","#8c564b","#e377c2","#7f7f7f","#bcbd22","#17becf"]}, "legend": null}
          }
        },
        {
          "data": {"name": "r2"},
          "mark": {"type": "rule", "strokeDash": [8, 4], "strokeWidth": 2},
          "encoding": {
            "y": {"field": "v", "type": "quantitative"},
            "stroke": {"field": "k", "type": "nominal", "scale": {"domain": ["Truth", "Min/Max value"], "range": ["#ff0000", "#000000"]}, "legend": null}
          }
        }
      ]
    },
    {
      "title": {"text": "Drying Time (days) - Subwatershed 1", "dy": 3},
      "width": 635,
      "height": 294,
      "layer": [
        {
          "data": {"name": "p3"},
          "mark": {"type": "line", "interpolate": "step-after", "strokeWidth": 1.5, "clip": true},
          "encoding": {
            "x": {"field": "i", "type": "quantitative", "scale": {"domain": [10000, 100000], "nice": false}, "axis": {"title": "Iteration", "values": [10000, 20000, 30000, 40000, 50000, 60000, 70000, 80000, 90000, 100000], "format": "d"}},
            "y": {"field": "v", "type": "quantitative", "scale": {"domain": [1.225, 12.775], "nice": false, "zero": false}, "axis": {"title": "Chain Value - Drying Time (days)", "values": [2, 4, 6, 8, 10, 12], "format": "d"}},
            "color": {"field": "c", "type": "nominal", "scale": {"domain": [0,1,2,3,4,5,6,7,8,9,10,11,12,13,14,15,16,17,18,19,20,21,22,23,24,25,26,27,28,29], "range": ["#1f77b4","#ff7f0e","#2ca02c","#d62728","#9467bd","#8c564b","#e377c2","#7f7f7f","#bcbd22","#17becf"]}, "legend": null}
          }
        },
        {
          "data": {"name": "r3"},
          "mark": {"type": "rule", "strokeDash": [8, 4], "strokeWidth": 2},
          "encoding": {
            "y": {"field": "v", "type": "quantitative"},
            "stroke": {"field": "k", "type": "nominal", "scale": {"domain": ["Truth", "Min/Max value"], "range": ["#ff0000", "#000000"]}, "legend": null}
          }
        }
      ]
    }
  ]
}
